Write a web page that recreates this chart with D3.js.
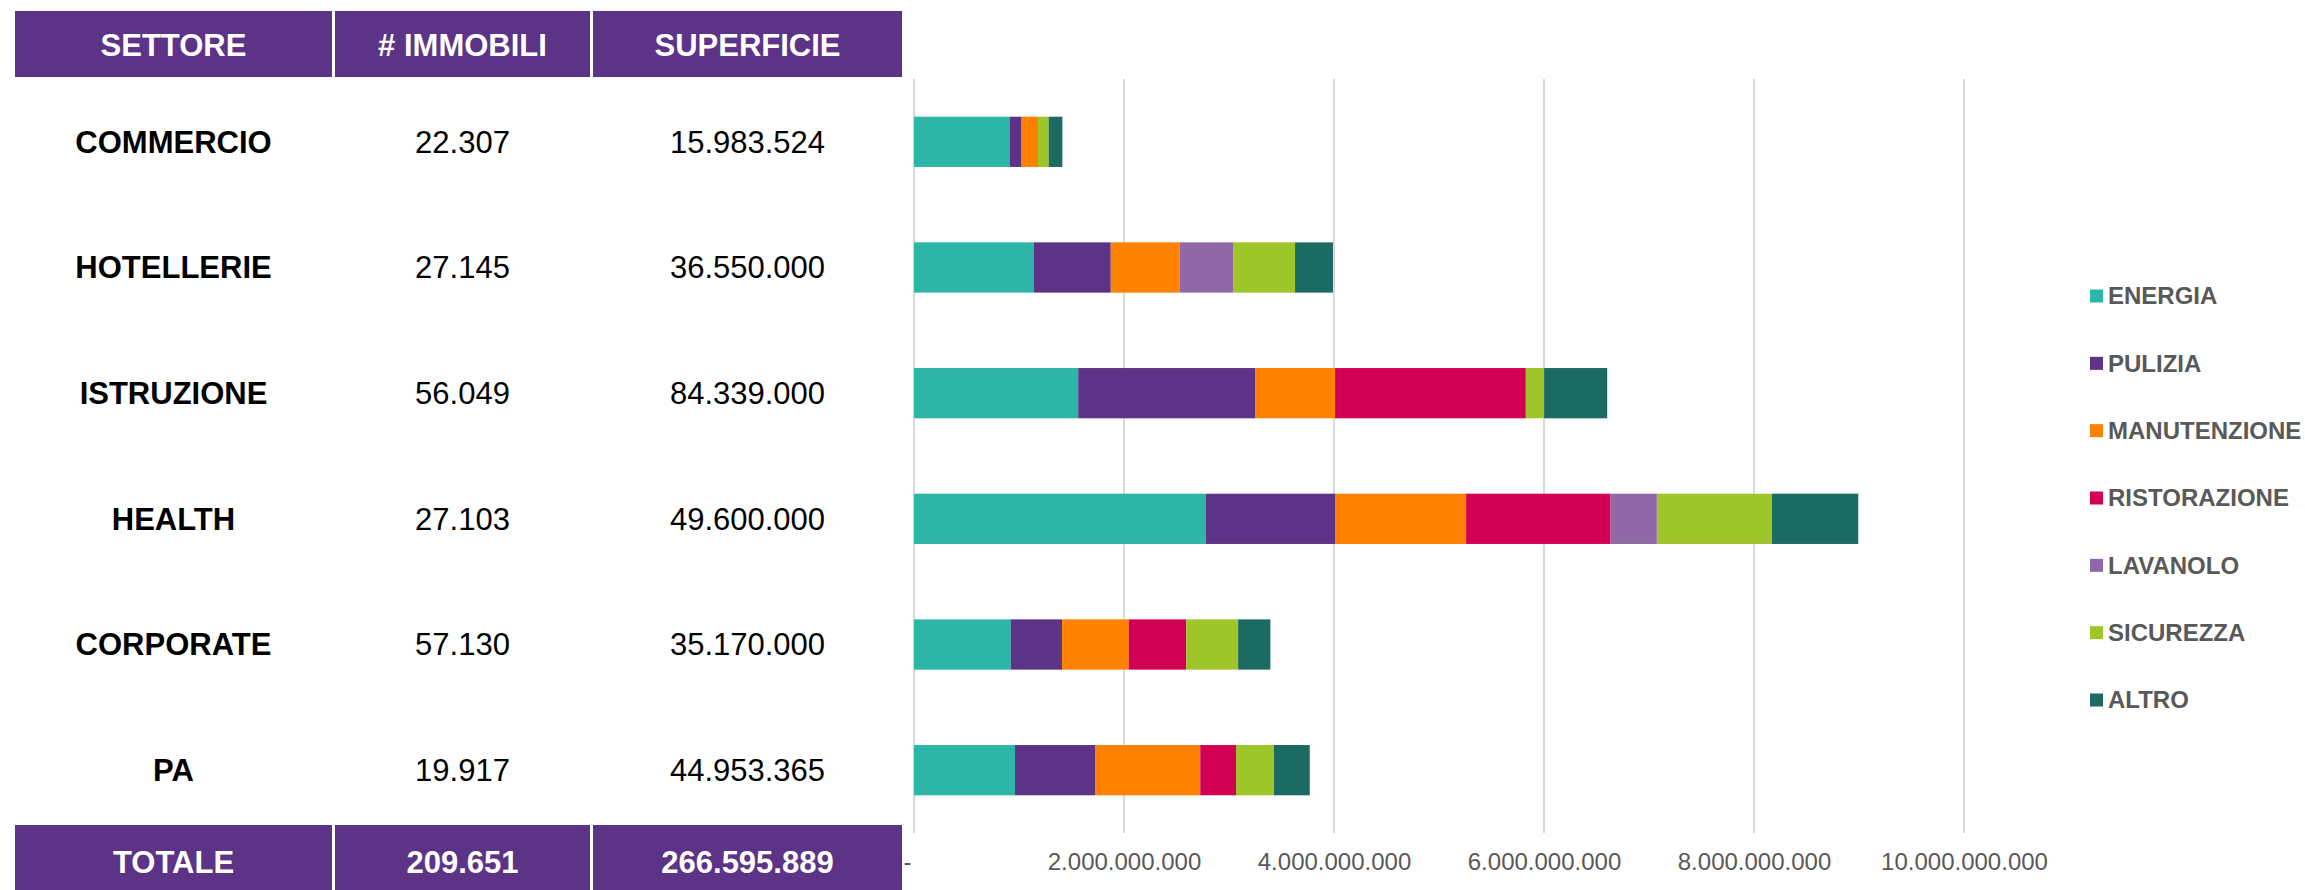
<!DOCTYPE html>
<html>
<head>
<meta charset="utf-8">
<script src="https://cdn.jsdelivr.net/npm/d3@7"></script>
<style>
  html, body { margin: 0; padding: 0; background: #ffffff; }
  svg { display: block; font-family: "Liberation Sans", Arial, sans-serif; }
</style>
</head>
<body>
<svg id="chart" width="2305" height="890"></svg>
<script>
// ---------- DATA ----------
const sectors = ["COMMERCIO", "HOTELLERIE", "ISTRUZIONE", "HEALTH", "CORPORATE", "PA"];
const immobili = ["22.307", "27.145", "56.049", "27.103", "57.130", "19.917"];
const superficie = ["15.983.524", "36.550.000", "84.339.000", "49.600.000", "35.170.000", "44.953.365"];
const tableHeaders = ["SETTORE", "# IMMOBILI", "SUPERFICIE"];
const totalRow = ["TOTALE", "209.651", "266.595.889"];

const seriesNames = ["ENERGIA", "PULIZIA", "MANUTENZIONE", "RISTORAZIONE", "LAVANOLO", "SICUREZZA", "ALTRO"];
// values in euro, one per sector (same order as sectors)
const energia      = [914e6, 1139e6, 1564e6, 2779e6, 922e6, 962e6];
const pulizia      = [111e6,  735e6, 1684e6, 1236e6, 488e6, 762e6];
const manutenzione = [156e6,  655e6,  762e6, 1243e6, 635e6, 1002e6];
const ristorazione = [  0,      0,   1817e6, 1376e6, 548e6, 341e6];
const lavanolo     = [  0,    510e6,    0,    441e6,   0,     0];
const sicurezza    = [102e6,  590e6,  174e6, 1096e6, 494e6, 361e6];
const altro        = [130e6,  361e6,  601e6,  822e6, 307e6, 341e6];
const xTicks = [0, 2e9, 4e9, 6e9, 8e9, 10e9];

const colors = ["#2DB5A8", "#5C3386", "#FF8200", "#D20052", "#9068A8", "#9EC52A", "#1B6B63"];
const headerPurple = "#5C3386";

// ---------- BUILD ----------
const seriesValues = [energia, pulizia, manutenzione, ristorazione, lavanolo, sicurezza, altro];
const rows = sectors.map((s, i) => {
  const o = { sector: s };
  seriesNames.forEach((n, k) => o[n] = seriesValues[k][i]);
  return o;
});
const stacked = d3.stack().keys(seriesNames)(rows);

const svg = d3.select("#chart");
const plotTop = 79, plotBottom = 833;

const x = d3.scaleLinear().domain([0, 10e9]).range([914, 1964]);
const y = d3.scaleBand().domain(sectors).range([plotTop, plotBottom]).paddingInner(0.6).paddingOuter(0.3);
const color = d3.scaleOrdinal().domain(seriesNames).range(colors);

// gridlines
svg.append("g").selectAll("line").data(xTicks).join("line")
  .attr("x1", d => x(d)).attr("x2", d => x(d))
  .attr("y1", plotTop).attr("y2", plotBottom)
  .attr("stroke", "#D9D9D9").attr("stroke-width", 2);

// x axis labels
const fmt = d => d === 0 ? "-" : d3.format(",")(d).replace(/,/g, ".");
const axis = d3.axisBottom(x).tickValues(xTicks).tickFormat(fmt).tickSize(0).tickPadding(0);
const axG = svg.append("g").attr("transform", `translate(0, 862)`).call(axis);
axG.select(".domain").remove();
axG.selectAll("text")
  .attr("y", 0).attr("dy", "0.35em")
  .attr("font-size", 24).attr("fill", "#595959")
  .attr("font-family", "Liberation Sans, Arial, sans-serif")
  .attr("dx", d => d === 0 ? -7 : 0);

// bars
svg.append("g").selectAll("g").data(stacked).join("g")
  .attr("fill", d => color(d.key))
  .selectAll("rect").data(d => d).join("rect")
  .attr("x", d => x(d[0]))
  .attr("width", d => Math.max(0, x(d[1]) - x(d[0])))
  .attr("y", d => y(d.data.sector))
  .attr("height", y.bandwidth());

// legend
const legend = svg.append("g");
const legY = d3.scalePoint().domain(seriesNames).range([296, 700]);
const li = legend.selectAll("g").data(seriesNames).join("g")
  .attr("transform", d => `translate(2090, ${legY(d)})`);
li.append("rect").attr("x", 0).attr("y", -6.5).attr("width", 13).attr("height", 13)
  .attr("fill", d => color(d));
li.append("text").attr("x", 18).attr("dy", "0.35em")
  .attr("font-size", 24).attr("font-weight", "bold").attr("fill", "#595959")
  .text(d => d);

// table
const cols = [[15, 332], [335, 590], [593, 902]];
const colCenter = c => (c[0] + c[1]) / 2;

const head = svg.append("g");
head.selectAll("rect").data(cols).join("rect")
  .attr("x", d => d[0]).attr("width", d => d[1] - d[0])
  .attr("y", 11).attr("height", 66).attr("fill", headerPurple);
head.selectAll("text").data(tableHeaders).join("text")
  .attr("x", (d, i) => colCenter(cols[i])).attr("y", 45).attr("dy", "0.35em")
  .attr("text-anchor", "middle").attr("font-size", 31).attr("font-weight", "bold")
  .attr("fill", "#ffffff").text(d => d);

const body = svg.append("g");
sectors.forEach((s, i) => {
  const cy = y(s) + y.bandwidth() / 2;
  const vals = [s, immobili[i], superficie[i]];
  vals.forEach((v, k) => {
    body.append("text")
      .attr("x", colCenter(cols[k])).attr("y", cy).attr("dy", "0.35em")
      .attr("text-anchor", "middle").attr("font-size", 31)
      .attr("font-weight", k === 0 ? "bold" : "normal")
      .attr("fill", "#000000").text(v);
  });
});

const foot = svg.append("g");
foot.selectAll("rect").data(cols).join("rect")
  .attr("x", d => d[0]).attr("width", d => d[1] - d[0])
  .attr("y", 825).attr("height", 65).attr("fill", headerPurple);
foot.selectAll("text").data(totalRow).join("text")
  .attr("x", (d, i) => colCenter(cols[i])).attr("y", 862).attr("dy", "0.35em")
  .attr("text-anchor", "middle").attr("font-size", 31).attr("font-weight", "bold")
  .attr("fill", "#ffffff").text(d => d);
</script>
</body>
</html>
